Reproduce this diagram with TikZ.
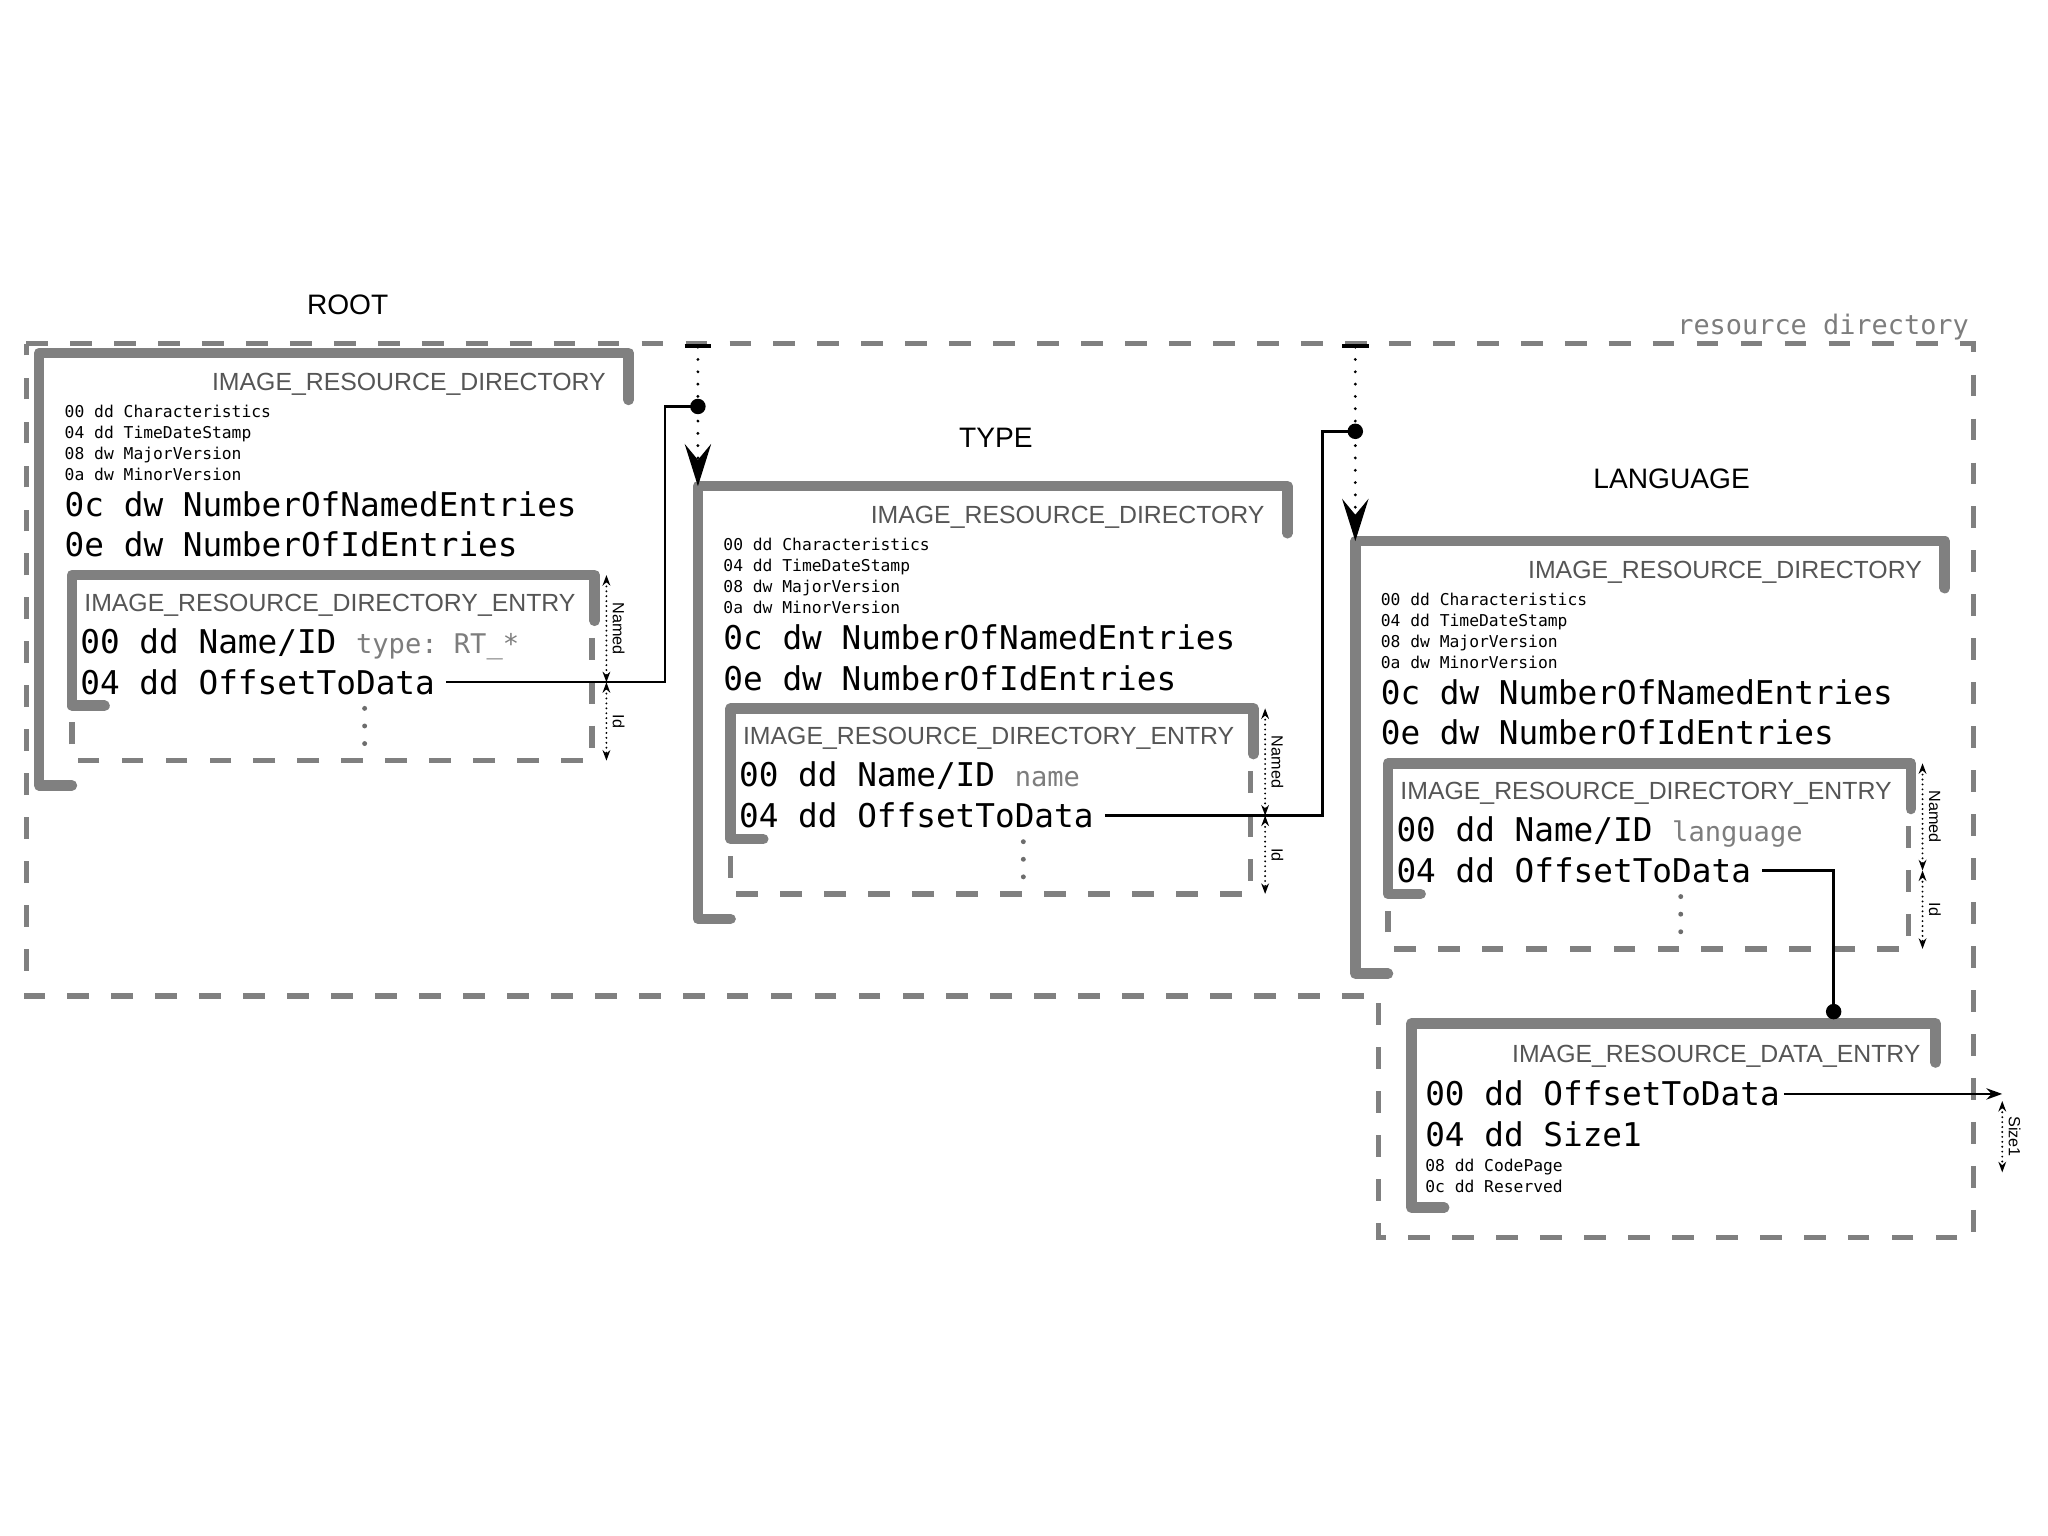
\documentclass[tikz,border=0pt]{standalone}
\usepackage{fontspec}
\setmonofont{DejaVu Sans Mono}
\setsansfont{Liberation Sans}
\usetikzlibrary{arrows.meta,positioning}
\definecolor{boxgray}{RGB}{128,128,128}
\definecolor{titlegray}{RGB}{85,85,85}
\definecolor{notegray}{RGB}{125,125,125}
\newcommand\hint[1]{{\fontsize{7.7}{9}\selectfont\color{notegray}#1}}

\begin{document}
\begin{tikzpicture}
  [
    x = 0.01306cm, y = -0.01306cm,
    frame/.style = {draw=boxgray,line width=3pt,line cap=round,line join=round},
    repeat/.style = {draw=boxgray,line width=1.5pt,dash pattern=on 6.2pt off 6.3pt},
    ellipsis/.style = {draw=boxgray!85!black,line width=1.4pt,line cap=round,dash pattern=on 0pt off 5pt},
    link/.style = {draw,line width=0.7pt},
    feed/.style = {draw,line width=0.9pt,line cap=round,dash pattern=on 0pt off 3.5pt,
                   {Bar[width=7.5pt,line width=1.3pt]}-{Stealth[length=12pt,width=7.5pt,inset=4.5pt]}},
    dim/.style = {draw,line width=0.6pt,line cap=round,dash pattern=on 0pt off 1.4pt,
                  {Stealth[length=3pt,width=2.2pt]}-{Stealth[length=3pt,width=2.2pt]}},
    dim label/.style = {font=\fontsize{4.6}{5}\sffamily,inner sep=1.5pt,rotate=-90,anchor=south},
    title/.style = {anchor=east,inner sep=0,font=\fontsize{7.06}{8}\sffamily,text=titlegray,
                    text height=5.05pt,text depth=0pt},
    field/.style = {anchor=west,inner sep=0,font=\fontsize{9.3}{11}\ttfamily,
                    text height=6.7pt,text depth=0pt},
    minor/.style = {anchor=west,inner sep=0,font=\fontsize{4.64}{5.5}\ttfamily,
                    text height=3.35pt,text depth=0pt},
    level/.style = {inner sep=0,font=\fontsize{8}{9.6}\sffamily,text height=5.7pt,text depth=0pt},
  ]

  \useasboundingbox (0,0) rectangle (1567,1174.5);

  % resource directory
  \draw [repeat] (20,263) -- (1510,263) -- (1510,947) -- (1055,947) -- (1055,762) -- (20,762) -- cycle;
  \node [anchor=base east,inner sep=0,font=\fontsize{7.65}{9}\ttfamily,text=notegray]
    (resdir) at (1507,256) {resource directory};

  \node [level] (root-level) at (266,233) {ROOT};
  \node [level] (type-level) at (762,335) {TYPE};
  \node [level] (lang-level) at (1279,366) {LANGUAGE};

  % the three directory levels
  \foreach \nm/\dx/\dy/\what in {root/0/0/{type: RT\_*},type/504/102/name,lang/1007/144/language} {
    \begin{scope}[shift={(30+\dx,270+\dy)}]
      \coordinate (\nm-corner) at (0,0);
      \draw [frame] (25,331) -- (0,331) -- (0,0) -- (451,0) -- (451,36);
      \node [title] (\nm-title) at (434,22) {IMAGE\_RESOURCE\_DIRECTORY};
      \node [minor] (\nm-f0) at (19,45)  {00 dd Characteristics};
      \node [minor] (\nm-f1) at (19,61)  {04 dd TimeDateStamp};
      \node [minor] (\nm-f2) at (19,77)  {08 dw MajorVersion};
      \node [minor] (\nm-f3) at (19,93)  {0a dw MinorVersion};
      \node [field] (\nm-named) at (19,116) {0c dw NumberOfNamedEntries};
      \node [field] (\nm-ids)   at (19,147) {0e dw NumberOfIdEntries};
      % entry
      \draw [frame] (50,270) -- (25,270) -- (25,170) -- (425,170) -- (425,205);
      \draw [repeat] (423,218) -- (423,312) -- (25,312) -- (25,278);
      \draw [ellipsis] (249,272) -- (249,312);
      \node [title,anchor=west] (\nm-entry) at (34,191) {IMAGE\_RESOURCE\_DIRECTORY\_ENTRY};
      \node [field] (\nm-name) at (31,221) {00 dd Name/ID \hint{\what}};
      \node [field] (\nm-off)  at (31,252) {04 dd OffsetToData};
      \draw [dim] (434,170) -- node [dim label] {Named} (434,252);
      \draw [dim] (434,252) -- node [dim label] {Id} (434,312);
    \end{scope}
  }

  % data entry
  \draw [frame] (1105,924) -- (1080,924) -- (1080,783) -- (1481,783) -- (1481,813);
  \node [title] (data-title) at (1470,806) {IMAGE\_RESOURCE\_DATA\_ENTRY};
  \node [field] (data-off)  at (1090,837) {00 dd OffsetToData};
  \node [field] (data-size) at (1090,868) {04 dd Size1};
  \node [minor] (data-cp)   at (1090,892) {08 dd CodePage};
  \node [minor] (data-res)  at (1090,908) {0c dd Reserved};

  \coordinate (type-top) at (534,263);
  \coordinate (type-in)  at (534,311);
  \coordinate (root-bend) at (509,311);
  \coordinate (lang-top) at (1037,263);
  \coordinate (lang-in)  at (1037,330);
  \coordinate (type-bend) at (1012,330);
  \coordinate (data-in)  at (1403,774);
  \coordinate (size-top) at (1532,837);
  \coordinate (size-end) at (1532,897);

  \draw [feed] (type-top) -- (type-corner);
  \draw [feed] (lang-top) -- (lang-corner);

  \draw [link] ([xshift=3pt]root-off.east) -| (root-bend) -- (type-in);
  \draw [link] ([xshift=3pt]type-off.east) -| (type-bend) -- (lang-in);
  \draw [link] ([xshift=3pt]lang-off.east) -| (data-in);
  \fill (type-in) circle (2.2pt);
  \fill (lang-in) circle (2.2pt);
  \fill (data-in) circle (2.2pt);

  \draw [link,-{Stealth[length=4.5pt,width=3.2pt]}] ([xshift=1pt]data-off.east) -- (size-top);
  \draw [dim] ([yshift=-2pt]size-top) -- node [dim label] {Size1} (size-end);

\end{tikzpicture}
\end{document}
